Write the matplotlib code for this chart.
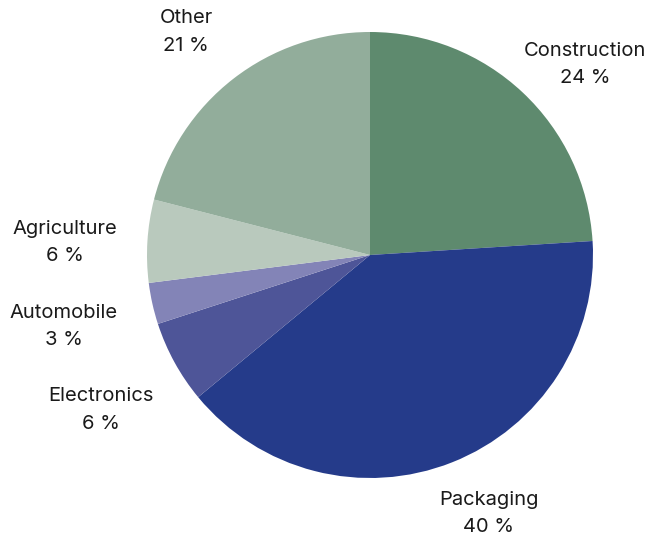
import numpy as np
import matplotlib
matplotlib.use("Agg")
import matplotlib.pyplot as plt

# Share of use by sector (percent)
sectors = ["Construction", "Packaging", "Electronics", "Automobile", "Agriculture", "Other"]
shares = [24, 40, 6, 3, 6, 21]
colors = ["#5e8a6e", "#253b8a", "#4e5598", "#8384b7", "#b9c9bd", "#92ad9b"]

# label placement: direction (deg) and distance (in pie radii) from the centre
label_angle = [41.9, -65.1, -150.4, -167.3, 177.2, 129.2]
label_dist = [1.296, 1.265, 1.386, 1.408, 1.368, 1.305]

plt.rcParams["font.family"] = ["Inter", "DejaVu Sans"]

W, H = 649, 535
fig = plt.figure(figsize=(W / 100, H / 100), dpi=100)
ax = fig.add_axes([0, 0, 1, 1])

cx, cy, r = 370, H - 255, 223
wedges, _ = ax.pie(shares, colors=colors, startangle=90, counterclock=False,
                   center=(cx, cy), radius=r, frame=True,
                   wedgeprops=dict(linewidth=0))
ax.set_xlim(0, W)
ax.set_ylim(0, H)
ax.set_aspect("equal")
ax.axis("off")

for name, val, a, d in zip(sectors, shares, label_angle, label_dist):
    ang = np.deg2rad(a)
    x = cx + d * r * np.cos(ang)
    y = cy + d * r * np.sin(ang) - 2.5
    ax.text(x, y, f"{name}\n{val} %", ha="center", va="center",
            fontsize=14.5, color="#1a1a1a", linespacing=1.68)

fig.savefig("out.png", dpi=100)
